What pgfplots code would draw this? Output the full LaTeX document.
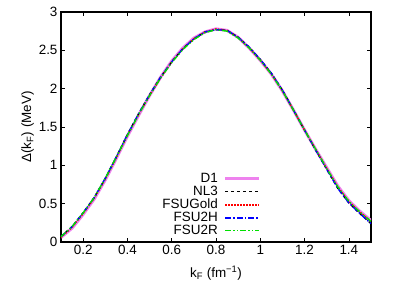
\documentclass[border=0pt]{standalone}
\usepackage{fontspec}
\setmainfont{Liberation Sans}
\usepackage{pgfplots}
\pgfplotsset{compat=1.18}
\usepackage{pgfplotstable}
\definecolor{dviolet}{HTML}{EE82EE}
\definecolor{dgreen}{HTML}{00E000}
\pgfplotstableread{
k D1 NL3 FSUGold FSU2H FSU2R
0.10 0.06 0.07 0.06 0.07 0.07
0.15 0.18 0.20 0.19 0.20 0.20
0.20 0.36 0.38 0.37 0.38 0.38
0.25 0.56 0.58 0.57 0.58 0.58
0.30 0.81 0.83 0.82 0.83 0.83
0.35 1.09 1.11 1.10 1.11 1.11
0.40 1.38 1.40 1.39 1.40 1.39
0.45 1.65 1.67 1.66 1.67 1.66
0.50 1.91 1.92 1.91 1.92 1.91
0.55 2.15 2.15 2.14 2.15 2.14
0.60 2.36 2.35 2.35 2.35 2.34
0.65 2.53 2.52 2.52 2.52 2.51
0.70 2.66 2.65 2.65 2.65 2.64
0.75 2.74 2.74 2.74 2.74 2.73
0.80 2.78 2.77 2.78 2.77 2.77
0.85 2.76 2.76 2.76 2.76 2.75
0.90 2.67 2.67 2.67 2.67 2.66
0.95 2.53 2.54 2.53 2.54 2.53
1.00 2.37 2.38 2.37 2.38 2.37
1.05 2.19 2.20 2.19 2.20 2.19
1.10 1.97 1.98 1.97 1.98 1.97
1.15 1.72 1.72 1.72 1.72 1.72
1.20 1.46 1.46 1.46 1.46 1.46
1.25 1.21 1.20 1.21 1.20 1.21
1.30 0.97 0.95 0.96 0.95 0.96
1.35 0.73 0.70 0.72 0.70 0.72
1.40 0.54 0.51 0.53 0.51 0.53
1.45 0.40 0.37 0.39 0.37 0.39
1.50 0.28 0.24 0.27 0.24 0.27
}\data
\begin{document}
\begin{tikzpicture}[font=\fontsize{13.5}{15}\selectfont]
\begin{axis}[
  scale only axis,
  width=310bp, height=230bp,
  xmin=0.1, xmax=1.5, ymin=0, ymax=3,
  xtick={0.2,0.4,0.6,0.8,1,1.2,1.4},
  ytick={0,0.5,1,1.5,2,2.5,3},
  xticklabels={0.2,0.4,0.6,0.8,1,1.2,1.4},
  yticklabels={0,0.5,1,1.5,2,2.5,3},
  tick align=inside,
  major tick length=4bp,
  axis line style={line width=1.1pt},
  tick style={line width=0.6pt, black},
  tick label style={font=\fontsize{13.5}{15}\selectfont},
  label style={font=\fontsize{13.5}{15}\selectfont},
  xlabel={k\textsubscript{F} (fm\textsuperscript{−1})},
  ylabel={Δ(k\textsubscript{F}) (MeV)},
  xlabel style={yshift=-4bp},
  ylabel style={yshift=-2bp},
  /pgf/number format/assume math mode=true,
  legend style={draw=none, fill=none, font=\fontsize{13.5}{15}\selectfont,
    at={(rel axis cs:0.645,0.02)}, anchor=south east,
    /tikz/row sep=0bp, /tikz/column sep=5bp, inner sep=0pt,
    nodes={inner sep=1bp}},
  legend cell align=right,
  legend plot pos=right,
  legend image code/.code={\draw[#1] (0bp,0bp) -- (34bp,0bp);},
]
\addplot[dviolet, line width=3pt] table[x=k,y=D1] {\data};
\addlegendentry{D1}
\addplot[black, line width=1.4pt, dash pattern=on 3bp off 3bp] table[x=k,y=NL3] {\data};
\addlegendentry{NL3}
\addplot[red, line width=1.4pt, dash pattern=on 1.4bp off 1.6bp] table[x=k,y=FSUGold] {\data};
\addlegendentry{FSUGold}
\addplot[blue, line width=1.4pt, dash pattern=on 6bp off 2bp on 1.5bp off 2bp] table[x=k,y=FSU2H] {\data};
\addlegendentry{FSU2H}
\addplot[dgreen, line width=1.4pt, dash pattern=on 6bp off 2bp on 1.5bp off 2bp on 1.5bp off 2bp] table[x=k,y=FSU2R] {\data};
\addlegendentry{FSU2R}
\end{axis}
\path ([xshift=-61bp,yshift=-53.3bp]current axis.south west) rectangle ([xshift=22bp,yshift=12bp]current axis.north east);
\end{tikzpicture}
\end{document}
